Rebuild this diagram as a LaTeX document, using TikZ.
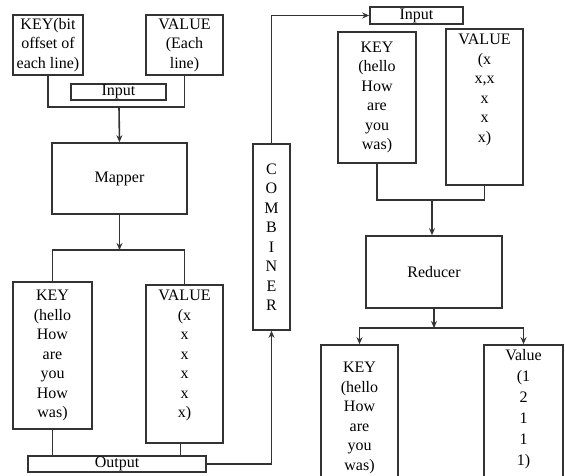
\documentclass[tikz,border=0pt]{standalone}
\usepackage{fontspec}
\setmainfont{Liberation Serif}
\usetikzlibrary{positioning,arrows.meta}

\tikzset{
  box/.style={draw=black!80, line width=1.6pt, inner sep=0pt, fill=white},
  txt/.style={align=center, inner sep=0pt, font=\fontsize{16}{19.5}\selectfont},
  link/.style={draw=black!80, line width=1.6pt},
  arr/.style={link, -{Stealth[length=7pt,width=6pt]}}
}

\begin{document}
\begin{tikzpicture}[x=1pt, y=-1pt]
\useasboundingbox (0,0) rectangle (565,475);

% Input side
\node[box, txt, minimum width=70pt, minimum height=60pt] (keyin) at (48,45) {KEY(bit\\offset of\\each line)};
\node[box, txt, minimum width=77pt, minimum height=60pt] (valin) at (184.5,45) {VALUE\\(Each\\line)};
\coordinate (jin) at (119,107);
\draw[link] (keyin.south) |- (jin) -| (valin.south);
\node[box, txt, minimum width=95pt, minimum height=16pt] (inputa) at (118.5,92) {Input};

% Mapper
\node[box, txt, minimum width=135pt, minimum height=71pt] (mapper) at (119.5,178.5) {Mapper};
\draw[arr] (jin) -- (mapper.north);

% Mapper output
\coordinate (jmap) at (119.5,250);
\draw[arr] (mapper.south) -- (jmap);
\node[box, txt, minimum width=79pt, minimum height=147pt] (keymap) at (52.5,355.5) {KEY\\(hello\\How\\are\\you\\How\\was)};
\node[box, minimum width=77pt, minimum height=158pt] (valmap) at (184.5,364) {};
\node[txt, anchor=north] (valmapt) at (184.5,290) {VALUE\\(x\\x\\x\\x\\x\\x)};
\draw[link] (keymap.north) |- (jmap) -| (valmap.north);
\node[box, txt, minimum width=178pt, minimum height=16pt] (output) at (117,464) {Output};
\draw[link] (keymap.south) -- (keymap.south |- output.north);
\draw[link] (valmap.south) ++(-4,0) coordinate (vm) -- (vm |- output.north);

% Combiner
\node[box, txt, minimum width=37pt, minimum height=186pt] (comb) at (271.5,237) {C\\O\\M\\B\\I\\N\\E\\R};
\draw[arr] (output.east) -| (comb.south);

% Reducer input
\node[box, txt, minimum width=93pt, minimum height=17pt] (inputb) at (416.5,15.5) {Input};
\draw[arr] (comb.north) |- (inputb.west);
\node[box, txt, minimum width=78pt, minimum height=131pt] (keyred) at (377,97.5) {KEY\\(hello\\How\\are\\you\\was)};
\node[box, minimum width=77pt, minimum height=156pt] (valred) at (484.5,107) {};
\node[txt, anchor=north] (valredt) at (484.5,34) {VALUE\\(x\\x,x\\x\\x\\x)};
\coordinate (jred) at (432,200);
\draw[link] (keyred.south) |- (jred) -| (valred.south);

% Reducer
\node[box, txt, minimum width=136pt, minimum height=72pt] (reducer) at (434,272) {Reducer};
\draw[arr] (jred) -- (jred |- reducer.north);

% Reducer output
\coordinate (jout) at (434,328);
\draw[arr] (reducer.south) -- (jout);
\node[box, minimum width=77pt, minimum height=140pt] (keyout) at (359.5,415) {};
\node[txt, anchor=north] (keyoutt) at (359.5,362) {KEY\\(hello\\How\\are\\you\\was)};
\node[box, minimum width=79pt, minimum height=140pt] (valout) at (523.5,415) {};
\node[txt, anchor=north, font=\fontsize{16}{21}\selectfont] (valoutt) at (523.5,349) {Value\\(1\\2\\1\\1\\1)};
\draw[arr] (jout) -| (keyout.north);
\draw[arr] (jout) -| (valout.north);
\end{tikzpicture}
\end{document}
